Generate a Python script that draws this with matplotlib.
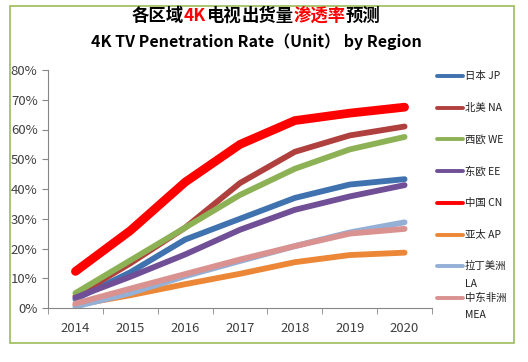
import matplotlib
matplotlib.use("Agg")
import matplotlib.pyplot as plt
from matplotlib.patches import Rectangle
from matplotlib.lines import Line2D
from matplotlib.offsetbox import TextArea, HPacker, AnchoredOffsetbox
from matplotlib.ticker import PercentFormatter

plt.rcParams['font.family'] = ['Noto Sans CJK SC', 'DejaVu Sans']

years = ['2014', '2015', '2016', '2017', '2018', '2019', '2020']

labels = ['日本 JP', '北美 NA', '西欧 WE', '东欧 EE', '中国 CN', '亚太 AP',
          '拉丁美洲\nLA', '中东非洲\nMEA']

jp = [3, 12, 23, 30, 37, 41.5, 43.3]
na = [4, 15, 27, 42, 52.5, 58, 61]
we = [5, 16, 27, 38, 46.8, 53.3, 57.5]
ee = [3.5, 10.5, 18, 26.3, 33, 37.5, 41.3]
cn = [12.3, 26, 42.3, 55, 63, 65.5, 67.5]
ap = [1, 4.3, 8, 11.5, 15.4, 17.8, 18.6]
la = [0.5, 5, 10.7, 15.8, 20.8, 25.4, 28.8]
mea = [1.5, 6.5, 11.4, 16.3, 20.8, 25, 26.6]

series = [jp, na, we, ee, cn, ap, la, mea]
colors = ['#3F72AF', '#B0403D', '#8DB255', '#704F96', '#FF0000', '#EB8736',
          '#94B0D6', '#D99290']
widths = [4.2, 4.2, 4.2, 4.2, 6.3, 4.2, 4.2, 4.2]

fig = plt.figure(figsize=(5.28, 3.62), dpi=100)
W, H = 528, 362

def fx(px):
    return px / W

def fy(py):
    return 1 - py / H

# outer green frame
fig.patches.append(Rectangle((fx(10), fy(343)), 504 / W, 337 / H,
                             transform=fig.transFigure, fill=False,
                             edgecolor='#9BBB59', linewidth=1.2))

ax = fig.add_axes([fx(48), fy(308), 384 / W, 238 / H])
x = range(len(years))
for vals, c, lw in zip(series, colors, widths):
    ax.plot(x, vals, color=c, linewidth=lw, solid_capstyle='round',
            solid_joinstyle='round')

ax.set_ylim(0, 80)
ax.set_yticks(range(0, 81, 10))
ax.yaxis.set_major_formatter(PercentFormatter(decimals=0))
ax.set_xlim(-0.5, 6.5)
ax.set_xticks(x)
ax.set_xticklabels(years)
ax.set_xticks([i - 0.5 for i in range(8)], minor=True)
ax.tick_params(axis='x', which='major', length=0, pad=10)
ax.tick_params(axis='x', which='minor', length=4, color='#868686')
ax.tick_params(axis='y', length=4, color='#868686', direction='out')
ax.tick_params(labelsize=9.5, labelcolor='#404040')
for s in ['top', 'right']:
    ax.spines[s].set_visible(False)
for s in ['left', 'bottom']:
    ax.spines[s].set_color('#868686')

# legend drawn by hand so two-line labels hang below the swatch
for i, (lab, c) in enumerate(zip(labels, colors)):
    yc = 76 + i * 31.7
    fig.add_artist(Line2D([fx(437), fx(463)], [fy(yc), fy(yc)], color=c,
                          linewidth=2.8, solid_capstyle='round'))
    lines = lab.split('\n')
    fig.text(fx(465), fy(yc), lines[0], ha='left', va='center',
             fontsize=7.5, color='#202020')
    if len(lines) > 1:
        fig.text(fx(465), fy(yc + 17.5), lines[1], ha='left', va='center',
                 fontsize=7.5, color='#202020')

# two-colour title
parts = [('各区域', 'black'), ('4K', '#FF0000'), ('电视', 'black'),
         ('出货量', 'black'), ('渗透率', '#FF0000'), ('预测', 'black')]
boxes = [TextArea(t, textprops=dict(color=c, fontsize=12.5, fontweight='bold'))
         for t, c in parts]
row = HPacker(children=boxes, pad=0, sep=0)
anc = AnchoredOffsetbox(loc='center', child=row, frameon=False,
                        bbox_to_anchor=(fx(256), fy(16)),
                        bbox_transform=fig.transFigure, pad=0, borderpad=0)
fig.add_artist(anc)
fig.text(fx(256), fy(42), '4K TV Penetration Rate（Unit） by Region',
         ha='center', va='center', fontsize=11.5, fontweight='bold')

fig.savefig('out.png', dpi=100)
